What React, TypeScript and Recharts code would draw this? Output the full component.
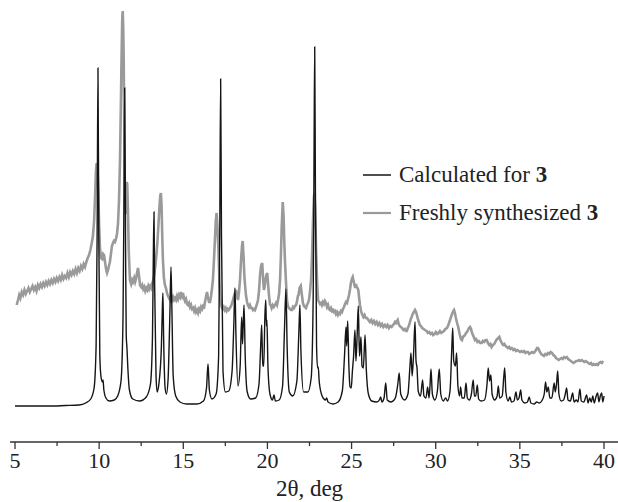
import React from "react";
import { LineChart, Line, XAxis, YAxis, Legend } from "recharts";

// 2θ (deg) and intensity (arb. units, calculated baseline = 0)
const calcPoints: [number, number][] = [
  [5.0, 0], [6.0, 0], [7.0, 0], [8.0, 0.5], [8.8, 1], [9.2, 3], [9.5, 7], [9.7, 18], [9.82, 60], [9.88, 170],
  [9.93, 338], [9.98, 170], [10.04, 50], [10.12, 28], [10.2, 24], [10.23, 26], [10.28, 16], [10.4, 8], [10.6, 5],
  [10.9, 6], [11.1, 10], [11.3, 25], [11.42, 90], [11.48, 220], [11.52, 318], [11.57, 160], [11.61, 70], [11.65, 59],
  [11.7, 40], [11.8, 16], [12.0, 7], [12.4, 5], [12.8, 9], [13.05, 22], [13.17, 70], [13.22, 150], [13.26, 194],
  [13.3, 120], [13.38, 30], [13.45, 14], [13.55, 22], [13.7, 60], [13.76, 100], [13.79, 113], [13.83, 70], [13.92, 18],
  [14.0, 12], [14.1, 28], [14.2, 90], [14.27, 139], [14.32, 100], [14.4, 30], [14.55, 10], [14.8, 4], [15.2, 2],
  [15.8, 2], [16.2, 5], [16.38, 18], [16.47, 42], [16.55, 16], [16.7, 7], [16.95, 12], [17.1, 50], [17.17, 180],
  [17.22, 327], [17.27, 170], [17.36, 35], [17.5, 14], [17.7, 15], [17.9, 35], [18.0, 80], [18.07, 118], [18.13, 70],
  [18.25, 20], [18.38, 40], [18.47, 89], [18.52, 62], [18.56, 80], [18.61, 101], [18.68, 50], [18.8, 14], [19.0, 7],
  [19.3, 8], [19.5, 22], [19.6, 60], [19.66, 81], [19.72, 40], [19.78, 40], [19.85, 90], [19.9, 106], [19.94, 80],
  [19.97, 86], [20.03, 40], [20.15, 12], [20.3, 6], [20.39, 11], [20.47, 5], [20.7, 6], [20.9, 20], [21.02, 80],
  [21.1, 117], [21.17, 60], [21.3, 14], [21.5, 10], [21.75, 25], [21.87, 75], [21.93, 101], [21.99, 55], [22.15, 14],
  [22.4, 14], [22.6, 28], [22.72, 110], [22.77, 250], [22.81, 359], [22.85, 220], [22.92, 60], [22.98, 38], [23.02, 39],
  [23.08, 24], [23.25, 10], [23.45, 6], [23.52, 8], [23.6, 4], [23.9, 2], [24.2, 4], [24.45, 15], [24.58, 50],
  [24.67, 79], [24.71, 60], [24.77, 85], [24.84, 40], [24.91, 19], [24.98, 18], [25.05, 35], [25.12, 50], [25.2, 76],
  [25.26, 45], [25.33, 70], [25.4, 100], [25.47, 50], [25.52, 60], [25.56, 69], [25.62, 40], [25.7, 38], [25.8, 71],
  [25.88, 35], [26.0, 12], [26.2, 5], [26.5, 4], [26.65, 6], [26.73, 9], [26.8, 4], [26.93, 8], [27.03, 23], [27.12, 6],
  [27.35, 4], [27.6, 8], [27.75, 22], [27.83, 33], [27.92, 12], [28.15, 6], [28.35, 12], [28.47, 40], [28.53, 53],
  [28.6, 30], [28.68, 50], [28.77, 84], [28.83, 45], [28.89, 38], [28.96, 15], [29.1, 10], [29.22, 26], [29.3, 10],
  [29.42, 8], [29.52, 19], [29.6, 8], [29.66, 20], [29.72, 37], [29.8, 12], [29.95, 6], [30.1, 15], [30.21, 37],
  [30.3, 12], [30.45, 5], [30.59, 8], [30.7, 5], [30.85, 15], [30.95, 55], [31.01, 78], [31.07, 45], [31.17, 40],
  [31.24, 53], [31.32, 20], [31.42, 10], [31.48, 19], [31.56, 8], [31.7, 8], [31.8, 23], [31.88, 8], [32.0, 6],
  [32.12, 12], [32.23, 26], [32.3, 10], [32.38, 10], [32.47, 21], [32.55, 7], [32.7, 5], [32.9, 6], [33.05, 22],
  [33.12, 38], [33.2, 25], [33.28, 31], [33.35, 12], [33.5, 6], [33.65, 10], [33.72, 20], [33.8, 8], [33.95, 10],
  [34.05, 30], [34.1, 38], [34.17, 14], [34.3, 5], [34.41, 9], [34.5, 4], [34.65, 5], [34.77, 14], [34.85, 6],
  [34.95, 8], [35.05, 16], [35.12, 6], [35.3, 3], [35.45, 4], [35.56, 9], [35.65, 3], [35.85, 2], [36.0, 4],
  [36.15, 3], [36.3, 5], [36.45, 12], [36.53, 24], [36.6, 14], [36.69, 19], [36.78, 8], [36.9, 8], [37.04, 23],
  [37.1, 14], [37.18, 22], [37.25, 35], [37.32, 12], [37.45, 5], [37.6, 6], [37.7, 12], [37.78, 18], [37.86, 6],
  [38.0, 5], [38.14, 13], [38.22, 4], [38.35, 6], [38.45, 4], [38.57, 17], [38.65, 5], [38.8, 4], [38.97, 11],
  [39.05, 3], [39.15, 8], [39.25, 4], [39.33, 10], [39.42, 3], [39.52, 9], [39.62, 13], [39.7, 4], [39.78, 10],
  [39.86, 13], [39.93, 4], [40.0, 10],
];

const exptPoints: [number, number][] = [
  [5.1, 101], [5.18, 106], [5.25, 111], [5.32, 108], [5.4, 114], [5.48, 111], [5.56, 116], [5.64, 112], [5.72, 115],
  [5.8, 118], [5.88, 114], [5.96, 117], [6.04, 120], [6.12, 116], [6.2, 119], [6.28, 115], [6.36, 121], [6.44, 118],
  [6.52, 122], [6.6, 119], [6.68, 123], [6.76, 120], [6.84, 124], [6.92, 121], [7.0, 125], [7.08, 122], [7.16, 126],
  [7.24, 123], [7.32, 127], [7.4, 124], [7.48, 128], [7.56, 125], [7.64, 129], [7.72, 126], [7.8, 131], [7.88, 127],
  [7.96, 130], [8.04, 128], [8.12, 133], [8.2, 129], [8.28, 134], [8.36, 131], [8.44, 135], [8.52, 132], [8.6, 137],
  [8.68, 133], [8.76, 138], [8.84, 135], [8.92, 140], [9.0, 137], [9.08, 142], [9.16, 139], [9.24, 144], [9.32, 148],
  [9.4, 151], [9.48, 156], [9.56, 163], [9.63, 170], [9.7, 185], [9.76, 210], [9.81, 235], [9.85, 243], [9.9, 238],
  [9.95, 215], [10.0, 180], [10.05, 158], [10.11, 148], [10.18, 147], [10.24, 152], [10.29, 151], [10.35, 144],
  [10.41, 137], [10.47, 133], [10.53, 136], [10.58, 140], [10.64, 144], [10.7, 152], [10.76, 160], [10.82, 163],
  [10.88, 165], [10.94, 164], [11.0, 167], [11.06, 172], [11.12, 182], [11.18, 205], [11.24, 246], [11.29, 300],
  [11.33, 346], [11.37, 385], [11.4, 395], [11.43, 380], [11.46, 346], [11.5, 260], [11.54, 200], [11.57, 192],
  [11.6, 206], [11.64, 224], [11.67, 222], [11.71, 196], [11.76, 155], [11.83, 126], [11.9, 122], [11.96, 126],
  [12.01, 124], [12.08, 128], [12.14, 124], [12.19, 127], [12.25, 133], [12.31, 138], [12.37, 130], [12.43, 121],
  [12.5, 119], [12.56, 121], [12.62, 117], [12.68, 119], [12.74, 115], [12.8, 118], [12.86, 116], [12.92, 120],
  [12.98, 117], [13.04, 120], [13.1, 118], [13.16, 123], [13.22, 126], [13.28, 132], [13.34, 140], [13.4, 150],
  [13.46, 163], [13.52, 180], [13.58, 198], [13.63, 210], [13.67, 213], [13.71, 200], [13.75, 170], [13.79, 146],
  [13.85, 128], [13.91, 121], [13.97, 118], [14.03, 113], [14.09, 110], [14.15, 108], [14.21, 106], [14.27, 110],
  [14.33, 106], [14.39, 109], [14.45, 106], [14.51, 108], [14.57, 106], [14.63, 110], [14.69, 107], [14.75, 111],
  [14.81, 109], [14.87, 114], [14.93, 110], [14.98, 113], [15.04, 108], [15.1, 105], [15.16, 107], [15.22, 102],
  [15.28, 101], [15.34, 103], [15.4, 99], [15.46, 101], [15.52, 97], [15.58, 98], [15.64, 95], [15.7, 98], [15.76, 94],
  [15.82, 96], [15.88, 93], [15.94, 97], [16.0, 95], [16.06, 99], [16.12, 97], [16.18, 100], [16.24, 99], [16.3, 105],
  [16.36, 110], [16.41, 114], [16.47, 108], [16.53, 104], [16.59, 104], [16.65, 110], [16.71, 118], [16.76, 126],
  [16.82, 145], [16.88, 166], [16.93, 185], [16.98, 193], [17.03, 180], [17.09, 156], [17.15, 125], [17.21, 106],
  [17.28, 99], [17.34, 97], [17.4, 99], [17.46, 96], [17.52, 98], [17.58, 95], [17.64, 97], [17.7, 96], [17.77, 98],
  [17.84, 100], [17.9, 103], [17.95, 106], [18.01, 110], [18.07, 113], [18.13, 116], [18.19, 110], [18.25, 106],
  [18.31, 114], [18.37, 126], [18.43, 145], [18.49, 160], [18.53, 165], [18.58, 150], [18.63, 130], [18.67, 121],
  [18.73, 110], [18.79, 104], [18.84, 101], [18.9, 99], [18.96, 101], [19.02, 98], [19.08, 98], [19.14, 96],
  [19.2, 97], [19.26, 96], [19.32, 99], [19.38, 102], [19.44, 106], [19.5, 115], [19.56, 131], [19.62, 140],
  [19.69, 143], [19.74, 128], [19.79, 116], [19.84, 120], [19.88, 126], [19.94, 131], [19.99, 133], [20.04, 122],
  [20.09, 111], [20.15, 102], [20.21, 100], [20.25, 98], [20.31, 101], [20.38, 99], [20.45, 101], [20.51, 103],
  [20.57, 101], [20.63, 106], [20.69, 112], [20.75, 126], [20.8, 150], [20.85, 180], [20.91, 204], [20.96, 190],
  [21.0, 165], [21.04, 146], [21.1, 125], [21.16, 106], [21.22, 100], [21.28, 98], [21.34, 97], [21.4, 96],
  [21.46, 96], [21.52, 99], [21.58, 98], [21.64, 100], [21.7, 101], [21.76, 105], [21.81, 110], [21.85, 111],
  [21.91, 118], [21.98, 120], [22.04, 112], [22.11, 103], [22.17, 100], [22.23, 99], [22.29, 98], [22.35, 101],
  [22.41, 103], [22.47, 106], [22.53, 114], [22.59, 126], [22.65, 150], [22.71, 186], [22.76, 208], [22.79, 213],
  [22.83, 200], [22.89, 156], [22.95, 125], [23.01, 106], [23.07, 104], [23.13, 102], [23.19, 103], [23.24, 101],
  [23.3, 104], [23.36, 102], [23.42, 105], [23.48, 103], [23.54, 99], [23.6, 101], [23.66, 97], [23.72, 96],
  [23.78, 98], [23.84, 95], [23.9, 96], [23.95, 94], [24.01, 95], [24.07, 92], [24.13, 94], [24.19, 91], [24.25, 93],
  [24.31, 92], [24.37, 95], [24.43, 94], [24.49, 97], [24.55, 99], [24.61, 102], [24.67, 104], [24.73, 103],
  [24.79, 107], [24.85, 111], [24.91, 117], [24.96, 123], [25.02, 127], [25.07, 129], [25.12, 125], [25.17, 121],
  [25.22, 118], [25.26, 122], [25.3, 119], [25.35, 118], [25.4, 116], [25.45, 108], [25.5, 101], [25.56, 95],
  [25.62, 92], [25.7, 89], [25.77, 91], [25.84, 88], [25.92, 88], [26.0, 86], [26.09, 84], [26.17, 86], [26.25, 83],
  [26.33, 85], [26.41, 82], [26.49, 84], [26.57, 81], [26.65, 83], [26.73, 80], [26.81, 82], [26.89, 79], [26.98, 81],
  [27.06, 79], [27.14, 81], [27.22, 78], [27.3, 80], [27.38, 79], [27.46, 81], [27.52, 82], [27.58, 84], [27.64, 83],
  [27.7, 85], [27.74, 86], [27.8, 82], [27.86, 80], [27.93, 79], [28.0, 78], [28.08, 76], [28.16, 77], [28.22, 75],
  [28.28, 75], [28.34, 78], [28.4, 80], [28.47, 84], [28.52, 87], [28.57, 89], [28.63, 92], [28.7, 94], [28.77, 96],
  [28.83, 94], [28.88, 91], [28.94, 87], [29.0, 84], [29.06, 81], [29.12, 80], [29.2, 78], [29.28, 77], [29.36, 76],
  [29.46, 75], [29.54, 73], [29.62, 74], [29.7, 72], [29.78, 73], [29.85, 71], [29.93, 72], [30.01, 74], [30.09, 72],
  [30.17, 73], [30.25, 75], [30.33, 73], [30.41, 74], [30.49, 75], [30.57, 77], [30.67, 78], [30.75, 81], [30.85, 86],
  [30.93, 90], [30.99, 93], [31.05, 95], [31.09, 96], [31.14, 93], [31.2, 88], [31.27, 83], [31.34, 79], [31.42, 72],
  [31.5, 67], [31.56, 66], [31.62, 69], [31.68, 70], [31.74, 71], [31.8, 73], [31.86, 74], [31.92, 76], [31.98, 78],
  [32.04, 79], [32.1, 77], [32.16, 73], [32.24, 70], [32.33, 66], [32.4, 67], [32.48, 64], [32.56, 65], [32.64, 63],
  [32.73, 63], [32.8, 65], [32.88, 64], [32.96, 66], [33.03, 66], [33.1, 63], [33.18, 61], [33.25, 62], [33.32, 59],
  [33.4, 61], [33.48, 62], [33.54, 64], [33.6, 66], [33.66, 67], [33.72, 68], [33.78, 69], [33.84, 66], [33.9, 64],
  [33.96, 62], [34.01, 61], [34.08, 62], [34.15, 60], [34.22, 59], [34.29, 58], [34.36, 59], [34.44, 57], [34.52, 58],
  [34.61, 56], [34.69, 57], [34.77, 55], [34.85, 56], [34.93, 55], [35.01, 54], [35.09, 55], [35.17, 54], [35.25, 55],
  [35.33, 53], [35.41, 54], [35.48, 54], [35.56, 52], [35.64, 53], [35.72, 54], [35.8, 53], [35.88, 54], [35.96, 56],
  [36.02, 58], [36.08, 58], [36.14, 56], [36.19, 54], [36.27, 52], [36.35, 51], [36.43, 50], [36.51, 52], [36.59, 51],
  [36.67, 53], [36.75, 52], [36.83, 54], [36.91, 53], [36.99, 51], [37.07, 50], [37.15, 48], [37.23, 47], [37.31, 46],
  [37.39, 47], [37.47, 48], [37.55, 47], [37.63, 49], [37.71, 48], [37.79, 49], [37.87, 47], [37.95, 46], [38.03, 45],
  [38.11, 44], [38.19, 43], [38.27, 44], [38.35, 45], [38.43, 45], [38.51, 46], [38.59, 45], [38.67, 46], [38.75, 45],
  [38.83, 44], [38.91, 45], [38.99, 44], [39.07, 43], [39.15, 42], [39.23, 43], [39.31, 41], [39.39, 42], [39.47, 41],
  [39.55, 42], [39.63, 41], [39.71, 43], [39.79, 44], [39.87, 43], [39.95, 45],
];

const xTicks = [5, 7.5, 10, 12.5, 15, 17.5, 20, 22.5, 25, 27.5, 30, 32.5, 35, 37.5, 40];
const seriesNames = ["Calculated for 3", "Freshly synthesized 3"];
const seriesColors = ["#151515", "#9a9a9a"];

const SERIF = "'Liberation Serif', 'DejaVu Serif', serif";

const calcData = calcPoints.map(([t, v]) => ({ t, v }));
const exptData = exptPoints.map(([t, v]) => ({ t, v }));

function AxisTick(props: any) {
  const { x, y, payload } = props;
  const major = payload.value % 5 === 0;
  return (
    <g>
      <line x1={x} y1={y} x2={x} y2={y + (major ? 7 : 4)} stroke="#333" strokeWidth={1.3} />
      {major && (
        <text x={x} y={y + 26} textAnchor="middle" style={{ fontFamily: SERIF, fontSize: 22 }} fill="#222">
          {payload.value}
        </text>
      )}
    </g>
  );
}

function renderLegend() {
  return (
    <div style={{ fontFamily: SERIF, fontSize: 23, color: "#222", lineHeight: "38px" }}>
      {seriesNames.map((name, i) => {
        const cut = name.lastIndexOf(" ");
        return (
          <div key={name} style={{ display: "flex", alignItems: "center", height: 38 }}>
            <svg width={36} height={6} style={{ flex: "none" }}>
              <line x1={0} y1={3} x2={28} y2={3} stroke={seriesColors[i]} strokeWidth={i === 0 ? 1.5 : 2.2} />
            </svg>
            <span style={{ whiteSpace: "nowrap" }}>
              {name.slice(0, cut + 1)}
              <b>{name.slice(cut + 1)}</b>
            </span>
          </div>
        );
      })}
    </div>
  );
}

export default function App() {
  return (
    <div style={{ position: "absolute", left: 0, top: 0, background: "#fff" }}>
      <LineChart width={618} height={502} margin={{ top: 6, right: 0, bottom: 0, left: 10 }}>
        <XAxis
          dataKey="t"
          type="number"
          domain={[4.703, 40.832]}
          allowDataOverflow
          ticks={xTicks}
          interval={0}
          tickLine={false}
          tickSize={0}
          tickMargin={0}
          tick={<AxisTick />}
          height={60}
          axisLine={{ stroke: "#333", strokeWidth: 1.3 }}
          label={(p: any) => {
            const vb = p.viewBox;
            return (
              <text x={vb.x + vb.width / 2 - 4.5} y={vb.y + 54} textAnchor="middle" style={{ fontFamily: SERIF, fontSize: 23 }} fill="#222">
                2θ, deg
              </text>
            );
          }}
        />
        <YAxis hide type="number" domain={[-36, 400]} allowDataOverflow />
        <Legend
          layout="vertical"
          align="center"
          verticalAlign="middle"
          content={renderLegend}
          wrapperStyle={{ left: 363, top: 156, width: 255 }}
        />
        <Line
          data={exptData}
          dataKey="v"
          name={seriesNames[1]}
          type="linear"
          stroke={seriesColors[1]}
          strokeWidth={2.6}
          dot={false}
          isAnimationActive={false}
        />
        <Line
          data={calcData}
          dataKey="v"
          name={seriesNames[0]}
          type="monotone"
          stroke={seriesColors[0]}
          strokeWidth={1.4}
          dot={false}
          isAnimationActive={false}
        />
      </LineChart>
    </div>
  );
}
